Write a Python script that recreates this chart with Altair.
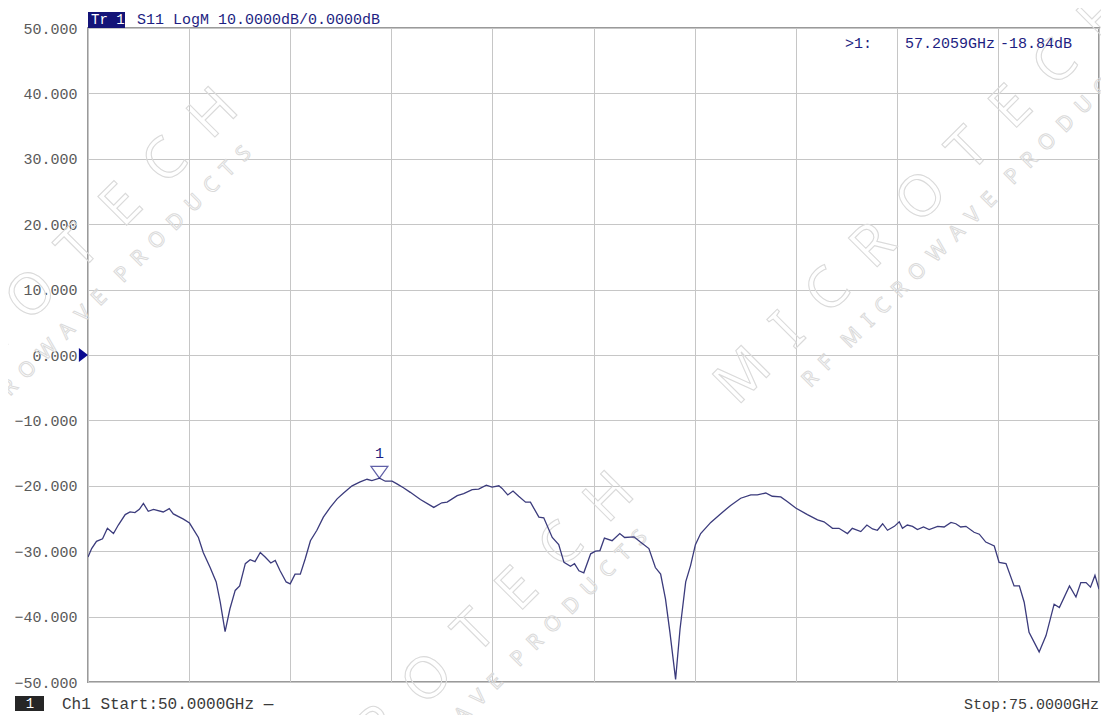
import altair as alt
import pandas as pd

# ---- data ----
freq_ghz = [50.00, 50.09, 50.21, 50.36, 50.48, 50.63, 50.75, 50.92, 51.04, 51.16,
            51.27, 51.37, 51.49, 51.62, 51.86, 52.01, 52.11, 52.36, 52.51, 52.73,
            52.85, 53.02, 53.17, 53.27, 53.39, 53.51, 53.64, 53.75, 53.89, 54.01,
            54.13, 54.26, 54.38, 54.52, 54.63, 54.75, 54.90, 55.00, 55.12, 55.25,
            55.37, 55.50, 55.66, 55.82, 55.99, 56.16, 56.32, 56.53, 56.73, 56.90,
            57.02, 57.21, 57.35, 57.52, 57.64, 57.80, 57.97, 58.22, 58.55, 58.75,
            58.88, 59.13, 59.29, 59.50, 59.66, 59.85, 59.99, 60.16, 60.24, 60.38,
            60.51, 60.65, 60.82, 60.94, 61.15, 61.27, 61.48, 61.64, 61.77, 61.93,
            62.03, 62.14, 62.26, 62.43, 62.55, 62.66, 62.77, 62.96, 63.15, 63.27,
            63.50, 63.66, 63.87, 64.03, 64.16, 64.28, 64.39, 64.53, 64.64, 64.78,
            64.90, 65.02, 65.15, 65.40, 65.64, 65.89, 66.14, 66.39, 66.55, 66.76,
            66.92, 67.13, 67.29, 67.50, 67.79, 68.04, 68.20, 68.41, 68.57, 68.78,
            68.90, 69.11, 69.26, 69.40, 69.52, 69.65, 69.77, 69.94, 70.06, 70.14,
            70.26, 70.39, 70.51, 70.66, 70.80, 71.01, 71.17, 71.34, 71.46, 71.58,
            71.71, 71.91, 72.04, 72.20, 72.41, 72.53, 72.70, 72.90, 73.03, 73.15,
            73.27, 73.52, 73.69, 73.89, 74.02, 74.27, 74.43, 74.55, 74.68, 74.79,
            74.90, 75.00]
s11_db = [-30.9, -29.6, -28.5, -28.1, -26.5, -27.3, -26.0, -24.4, -24.0, -24.1,
          -23.6, -22.7, -23.9, -23.6, -24.0, -23.5, -24.3, -25.1, -25.7, -27.9,
          -30.2, -32.5, -34.7, -37.8, -42.3, -38.8, -36.0, -35.3, -31.9, -31.3,
          -31.6, -30.2, -30.9, -31.8, -31.4, -33.0, -34.7, -35.0, -33.5, -33.5,
          -31.2, -28.4, -26.8, -24.8, -23.3, -22.0, -21.1, -20.0, -19.4, -19.0,
          -19.2, -18.84, -19.3, -19.3, -19.7, -20.3, -21.0, -22.1, -23.3, -22.6,
          -22.5, -21.5, -21.2, -20.6, -20.5, -19.9, -20.2, -20.0, -20.4, -21.4,
          -20.8, -21.6, -22.5, -22.5, -24.8, -24.9, -27.9, -29.0, -31.7, -32.3,
          -31.9, -33.0, -33.3, -30.4, -30.0, -29.9, -28.0, -28.4, -27.3, -27.9,
          -27.8, -28.6, -29.6, -32.5, -33.5, -37.3, -42.4, -49.6, -41.9, -34.7,
          -32.2, -29.0, -27.3, -25.6, -24.3, -23.0, -21.9, -21.4, -21.4, -21.1,
          -21.6, -21.7, -22.4, -23.4, -24.4, -25.2, -25.5, -26.5, -26.5, -27.3,
          -26.5, -27.0, -26.0, -26.6, -26.8, -25.8, -26.8, -26.2, -25.5, -26.5,
          -26.0, -26.2, -26.7, -26.3, -26.7, -26.2, -26.3, -25.6, -25.8, -26.3,
          -26.2, -27.1, -27.4, -28.6, -29.2, -31.7, -31.9, -35.3, -35.3, -37.8,
          -42.4, -45.4, -42.9, -38.1, -38.6, -35.3, -37.0, -34.8, -34.8, -35.5,
          -33.7, -35.8]

marker_freq = [57.2059]
marker_db = [-18.84]
marker_label = ["1"]

y_ticks = [-50, -40, -30, -20, -10, 0, 10, 20, 30, 40, 50]
x_grid = [50, 52.5, 55, 57.5, 60, 62.5, 65, 67.5, 70, 72.5, 75]
ref_level = [0]

header_tag = "Tr 1"
header_text = "S11 LogM 10.0000dB/0.0000dB"
readout_id = ">1:"
readout_freq = "57.2059GHz"
readout_val = "-18.84dB"
chan_tag = "1"
start_text = "Ch1 Start:50.0000GHz \u2014"
stop_text = "Stop:75.0000GHz"
wm_main = "\u2002".join("MICROTECH")
wm_sub = "\u2002".join(list("RF")) + "\u2003" + "\u2002".join("MICROWAVE") + "\u2003" + "\u2002".join("PRODUCTS")

FONT = "Liberation Mono"
NAVY = "#1e1e82"
TRACE = "#3b3b7c"
WM = "#dadada"

W, H = 1011, 654

df = pd.DataFrame({"f": freq_ghz, "db": s11_db})
mk = pd.DataFrame({"f": marker_freq, "db": marker_db, "lab": marker_label})
ref = pd.DataFrame({"db": ref_level, "fl": [50]})

xscale = alt.Scale(domain=[50, 75], nice=False, zero=False)
yscale = alt.Scale(domain=[-50, 50], nice=False, zero=False)

xax = alt.Axis(values=x_grid, labels=False, ticks=False, domain=False, title=None,
               grid=True, gridColor="#c6c6c6", gridWidth=1)
yax = alt.Axis(values=y_ticks, format=".3f", ticks=False, domain=False, title=None,
               grid=True, gridColor="#c6c6c6", gridWidth=1,
               labelFont=FONT, labelFontSize=15, labelColor="#5a5a5a",
               labelPadding=11, labelBaseline="middle")

one = pd.DataFrame({"k": [0]})

# faint watermark (outlined text, rotated)
wm_layers = []
for cx, cy in [(834, 170), (-56, 268), (340, 652)]:
    wm_layers.append(alt.Chart(one).mark_text(
        text=wm_main, font="Noto Sans", fontSize=57, angle=315, fillOpacity=0,
        stroke=WM, strokeWidth=1.1, align="center", baseline="middle", clip=False
    ).encode(x=alt.value(cx), y=alt.value(cy)))
    wm_layers.append(alt.Chart(one).mark_text(
        text=wm_sub, font="Noto Sans", fontSize=21, angle=315, fillOpacity=0,
        stroke=WM, strokeWidth=1, align="center", baseline="middle", clip=False
    ).encode(x=alt.value(cx + 50), y=alt.value(cy + 20)))

trace = alt.Chart(df).mark_line(color=TRACE, strokeWidth=1.3, clip=True).encode(
    x=alt.X("f:Q", scale=xscale, axis=xax),
    y=alt.Y("db:Q", scale=yscale, axis=yax),
)

marker_sym = alt.Chart(mk).mark_point(
    shape="M-1,-1.4L1,-1.4L0,0Z", size=289, filled=False, stroke=NAVY, strokeWidth=1.2
).encode(x=alt.X("f:Q", scale=xscale), y=alt.Y("db:Q", scale=yscale))

marker_txt = alt.Chart(mk).mark_text(
    font=FONT, fontSize=15, color=NAVY, dy=-25, align="center", baseline="middle"
).encode(x=alt.X("f:Q", scale=xscale), y=alt.Y("db:Q", scale=yscale), text="lab:N")

ref_left = alt.Chart(ref).mark_point(
    shape="M-1.3,-1L0,0L-1.3,1Z", size=196, filled=True, color="#0a0a90", opacity=1, clip=False
).encode(x=alt.X("fl:Q", scale=xscale), y=alt.Y("db:Q", scale=yscale))

frame_v = alt.Chart(one).mark_rule(color="#d6d6d6", strokeWidth=1).encode(
    x=alt.value(-80.5), y=alt.value(-20.5), y2=alt.value(690))
frame_h = alt.Chart(one).mark_rule(color="#d6d6d6", strokeWidth=1).encode(
    x=alt.value(-80.5), x2=alt.value(1013), y=alt.value(-20.5))

tag_box = alt.Chart(one).mark_rect(color="#141478").encode(
    x=alt.value(0), x2=alt.value(37), y=alt.value(-16), y2=alt.value(0))
tag_txt = alt.Chart(one).mark_text(
    text=header_tag, font=FONT, fontSize=14, color="white", align="left", baseline="alphabetic"
).encode(x=alt.value(3), y=alt.value(-4))
head_txt = alt.Chart(one).mark_text(
    text=header_text, font=FONT, fontSize=15, color=NAVY, align="left", baseline="alphabetic"
).encode(x=alt.value(49), y=alt.value(-4))

ro1 = alt.Chart(one).mark_text(
    text=readout_id, font=FONT, fontSize=15, color=NAVY, align="left", baseline="middle"
).encode(x=alt.value(757), y=alt.value(15))
ro2 = alt.Chart(one).mark_text(
    text=readout_freq, font=FONT, fontSize=15, color=NAVY, align="left", baseline="middle"
).encode(x=alt.value(817), y=alt.value(15))
ro3 = alt.Chart(one).mark_text(
    text=readout_val, font=FONT, fontSize=15, color=NAVY, align="left", baseline="middle"
).encode(x=alt.value(912), y=alt.value(15))

ch_box = alt.Chart(one).mark_rect(color="#262626").encode(
    x=alt.value(-73), x2=alt.value(-44), y=alt.value(668), y2=alt.value(683))
ch_txt = alt.Chart(one).mark_text(
    text=chan_tag, font=FONT, fontSize=14, color="white", align="center", baseline="middle"
).encode(x=alt.value(-58), y=alt.value(676))
start_txt = alt.Chart(one).mark_text(
    text=start_text, font=FONT, fontSize=16, color="#3a3a3a", align="left", baseline="middle"
).encode(x=alt.value(-26), y=alt.value(676))
stop_txt = alt.Chart(one).mark_text(
    text=stop_text, font=FONT, fontSize=15, color="#3a3a3a", align="right", baseline="middle"
).encode(x=alt.value(W), y=alt.value(676))

chart = alt.layer(
    *wm_layers, frame_v, frame_h,
    trace, marker_sym, marker_txt, ref_left,
    tag_box, tag_txt, head_txt, ro1, ro2, ro3,
    ch_box, ch_txt, start_txt, stop_txt,
).properties(
    width=W, height=H,
    autosize=alt.AutoSizeParams(type="none"),
    padding={"left": 80, "top": 20, "right": 2, "bottom": 33},
    background="white",
).configure_view(
    stroke="#9a9a9a", strokeWidth=2
)

chart.save("out.html", embed_options={"renderer": "svg", "actions": False})
